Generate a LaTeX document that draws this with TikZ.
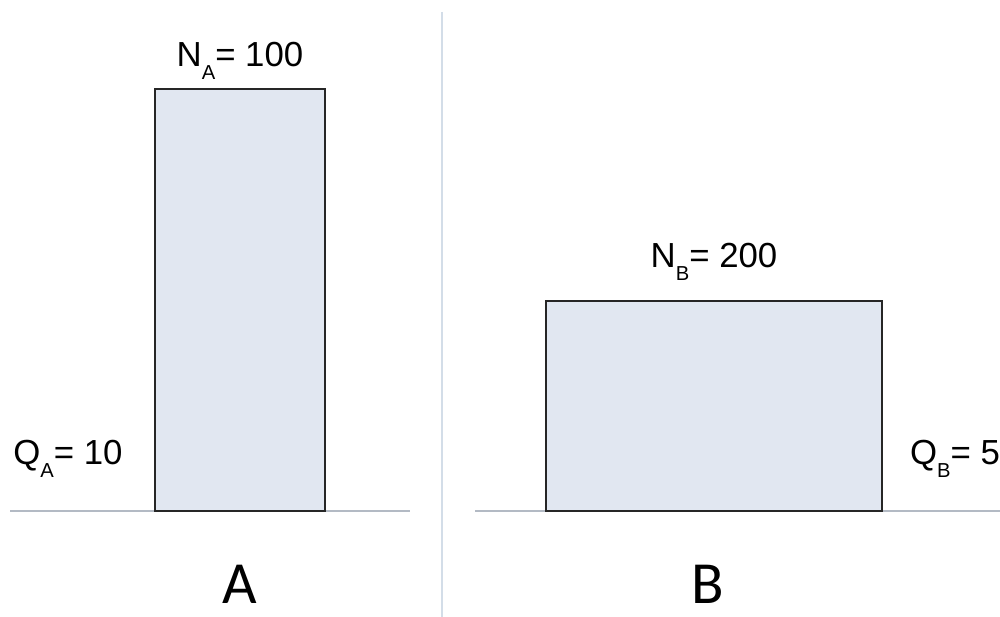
\documentclass[tikz,border=0pt]{standalone}
\usepackage{fontspec}
\setmainfont{Liberation Sans}
\newfontfamily\bigfont{Carlito}
\usepackage{tikz}
\usetikzlibrary{positioning}

\definecolor{barfill}{HTML}{E1E7F1}
\definecolor{groundgray}{HTML}{B3BAC4}
\definecolor{splitgray}{HTML}{D3DDE8}

\newcommand{\lowsub}[1]{\raisebox{-7pt}{\fontsize{11.5}{13}\selectfont #1}}

\begin{document}
\begin{tikzpicture}[
    x=0.02cm, y=-0.02cm,
    barstyle/.style={draw=black!85, fill=barfill, line width=0.8pt},
    groundstyle/.style={draw=groundgray, line width=1pt},
    splitstyle/.style={draw=splitgray, line width=1.2pt},
    valstyle/.style={anchor=base, inner sep=0pt, font=\fontsize{19.8}{23}\selectfont},
    namestyle/.style={anchor=base, inner sep=0pt, font=\bigfont\fontsize{34}{40}\selectfont}
]
\useasboundingbox (0,0) rectangle (1000,617);

% divider between the two cases
\coordinate (splittop) at (442,12);
\coordinate (splitbot) at (442,617);
\draw[splitstyle] (splittop) -- (splitbot);

% case A
\coordinate (gA1) at (10,511);
\coordinate (gA2) at (410,511);
\draw[groundstyle] (gA1) -- (gA2);
\node[barstyle, minimum width=3.4cm, minimum height=8.44cm, inner sep=0pt] (barA) at (240,300) {};
\node[valstyle] (nA) at (240,67) {N\lowsub{A}= 100};
\node[valstyle] (qA) at (68,465) {Q\lowsub{A}= 10};
\node[namestyle] (labA) at (240,603) {A};

% case B
\coordinate (gB1) at (475,511);
\coordinate (gB2) at (1000,511);
\draw[groundstyle] (gB1) -- (gB2);
\node[barstyle, minimum width=6.72cm, minimum height=4.2cm, inner sep=0pt] (barB) at (714,406) {};
\node[valstyle] (nB) at (714,268) {N\lowsub{B}= 200};
\node[valstyle] (qB) at (955,465) {Q\lowsub{B}= 5};
\node[namestyle] (labB) at (708,603) {B};

\end{tikzpicture}
\end{document}
